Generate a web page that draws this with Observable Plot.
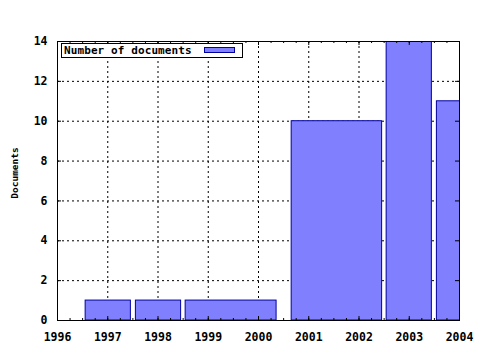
<!DOCTYPE html>
<html><head><meta charset="utf-8">
<script src="https://cdn.jsdelivr.net/npm/d3@7"></script>
<script src="https://cdn.jsdelivr.net/npm/@observablehq/plot@0.6"></script>
<style>
body{margin:0;background:#fff;}
#wrap{position:relative;width:480px;height:350px;overflow:hidden;}
.legend{position:absolute;left:61px;top:43px;border:1px solid #000;background:#fff;box-sizing:border-box;width:182px;height:15px;}
.legend span{position:absolute;left:2px;top:0px;font:bold 11px "DejaVu Sans Mono",monospace;line-height:13px;white-space:nowrap;letter-spacing:0.1px;}
.legend i{position:absolute;left:142px;top:3px;width:31px;height:6px;background:#8080ff;border:1px solid #0000a0;box-sizing:border-box;}
</style>
</head><body>
<div id="wrap"></div>
<script>
const years = [1996, 1997, 1998, 1999, 2000, 2001, 2002, 2003, 2004];
const gridYears = [1997, 1998, 1999, 2000, 2001, 2002, 2003];
const yTicks = [0, 2, 4, 6, 8, 10, 12, 14];
const gridValues = [2, 4, 6, 8, 10, 12];
const barStart = [1996.56, 1997.56, 1998.55, 2000.66, 2002.55, 2003.55];
const barEnd = [1997.46, 1998.46, 2000.36, 2002.46, 2003.45, 2004.45];
const counts = [1, 1, 1, 10, 14, 11];
const seriesName = "Number of documents";
const yLabel = "Documents";

const bars = counts.map((c, i) => ({start: barStart[i], end: barEnd[i], count: c}));
const minorTicks = d3.range(1996, 2004.001, 0.25);
const ph = 350 - 41 - 30;
const pw = 480 - 57 - 21;

const chart = Plot.plot({
  width: 480, height: 350,
  marginLeft: 57, marginRight: 21, marginTop: 41, marginBottom: 30,
  x: {domain: [1996, 2004]},
  y: {domain: [0, 14]},
  style: {fontFamily: "'DejaVu Sans Mono', monospace", fontWeight: "bold", fontSize: "11.5px", color: "#000", background: "#fff", overflow: "visible"},
  marks: [
    Plot.ruleX(gridYears, {x: d => d, stroke: "#000", strokeWidth: 1, strokeDasharray: "2,3"}),
    Plot.ruleY(gridValues, {y: d => d, stroke: "#000", strokeWidth: 1, strokeDasharray: "2,3"}),
    Plot.rect(bars, {x1: "start", x2: "end", y1: 0, y2: "count", fill: "#8080ff", stroke: "#0000a0", strokeWidth: 1, clip: true}),
    Plot.ruleX(minorTicks, {x: d => d, insetTop: ph - 2, stroke: "#000"}),
    Plot.ruleX(minorTicks, {x: d => d, insetBottom: ph - 2, stroke: "#000"}),
    Plot.ruleX(years, {x: d => d, insetTop: ph - 4, stroke: "#000"}),
    Plot.ruleX(years, {x: d => d, insetBottom: ph - 4, stroke: "#000"}),
    Plot.ruleY(yTicks, {y: d => d, insetRight: pw - 4, stroke: "#000"}),
    Plot.ruleY(yTicks, {y: d => d, insetLeft: pw - 4, stroke: "#000"}),
    Plot.axisX({ticks: years, tickSize: 0, tickPadding: 12, tickFormat: "d", label: null}),
    Plot.axisY({ticks: yTicks, tickSize: 0, tickPadding: 10, tickFormat: "d", label: null}),
    Plot.text([yLabel], {text: d => d, frameAnchor: "left", textAnchor: "middle", rotate: -90, dx: -43, dy: -8, fontSize: 9.5, fontWeight: "bold"}),
    Plot.frame({stroke: "#000", strokeWidth: 1})
  ]
});
const wrap = document.getElementById("wrap");
wrap.appendChild(chart);
const lg = document.createElement("div");
lg.className = "legend";
lg.innerHTML = `<span></span><i></i>`;
lg.querySelector("span").textContent = seriesName;
wrap.appendChild(lg);
</script>
</body></html>
